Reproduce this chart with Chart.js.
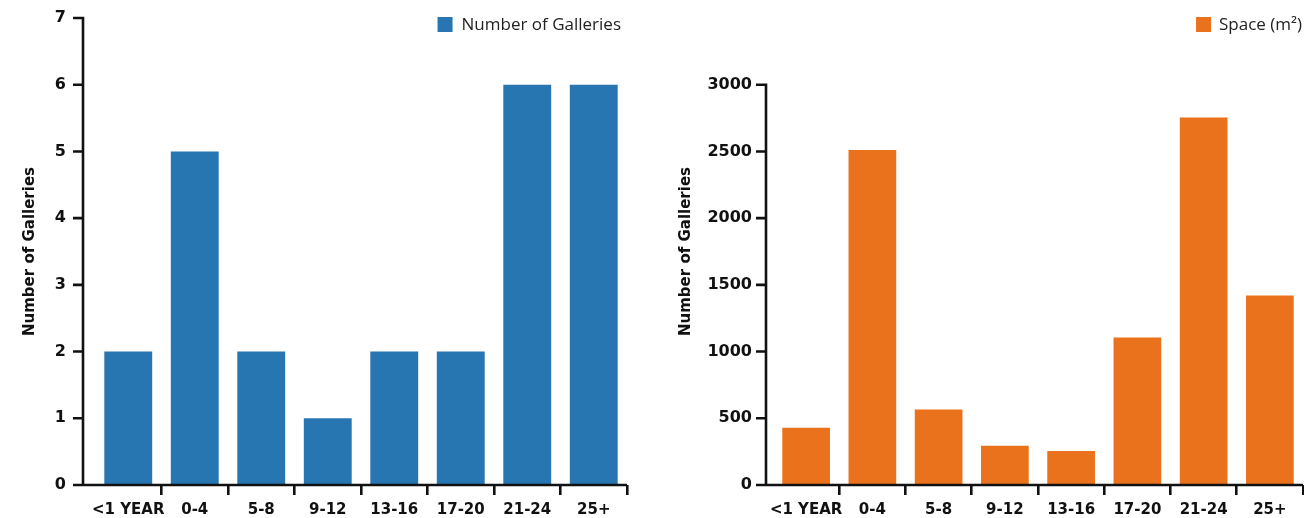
<!DOCTYPE html>
<html>
<head>
<meta charset="utf-8">
<script src="https://cdn.jsdelivr.net/npm/chart.js@4.4.0/dist/chart.umd.min.js"></script>
<style>
  body { margin: 0; background: #fff; }
  .wrap { position: absolute; top: 0; width: 652px; height: 518px; }
  #leftWrap { left: 0; }
  #rightWrap { left: 652px; }
</style>
</head>
<body>
<div class="wrap" id="leftWrap"><canvas id="galleries" width="652" height="518"></canvas></div>
<div class="wrap" id="rightWrap"><canvas id="space" width="652" height="518"></canvas></div>
<script>
const categories = ['<1 YEAR', '0-4', '5-8', '9-12', '13-16', '17-20', '21-24', '25+'];
const galleryCounts = [2, 5, 2, 1, 2, 2, 6, 6];
const spaceValues = [430, 2510, 565, 295, 255, 1105, 2755, 1420];
const galleryTicks = [0, 1, 2, 3, 4, 5, 6, 7];
const spaceTicks = [0, 500, 1000, 1500, 2000, 2500, 3000];

const TICK_FONT = "'DejaVu Sans', sans-serif";
const LEGEND_FONT = "'Open Sans', sans-serif";
const INK = '#111';

// y axis line sits a few px left of the first category, so axes and legend are drawn here
const axisLines = {
  id: 'axisLines',
  afterDraw(chart, args, opts) {
    const { ctx, chartArea, scales } = chart;
    const y = scales.y;
    const ax = chartArea.left - opts.gap;
    const top = y.getPixelForValue(opts.ticks[opts.ticks.length - 1]);
    const bottom = y.getPixelForValue(0);
    ctx.save();
    ctx.strokeStyle = INK;
    ctx.lineWidth = 2.6;
    ctx.beginPath();
    ctx.moveTo(ax, top - 1.3);
    ctx.lineTo(ax, bottom);
    ctx.moveTo(ax - 1.3, bottom);
    ctx.lineTo(chartArea.right, bottom);
    opts.ticks.forEach(v => {
      const py = y.getPixelForValue(v);
      ctx.moveTo(ax - 10, py);
      ctx.lineTo(ax, py);
    });
    ctx.stroke();

    // legend, top right
    const ds = chart.data.datasets[0];
    ctx.font = `17px ${LEGEND_FONT}`;
    ctx.textBaseline = 'middle';
    ctx.textAlign = 'left';
    const w = ctx.measureText(ds.label).width;
    const tx = chartArea.right - opts.legendRight - w;
    ctx.fillStyle = ds.backgroundColor;
    ctx.fillRect(tx - opts.legendGap - 15, 17, 15, 15);
    ctx.fillStyle = '#222';
    ctx.fillText(ds.label, tx, 25.5);
    ctx.restore();
  }
};

function makeChart(id, cfg) {
  return new Chart(document.getElementById(id), {
    type: 'bar',
    data: {
      labels: categories,
      datasets: [{
        label: cfg.label,
        data: cfg.values,
        backgroundColor: cfg.color,
        borderWidth: 0,
        barPercentage: 0.72,
        categoryPercentage: 1
      }]
    },
    plugins: [axisLines],
    options: {
      responsive: false,
      animation: false,
      devicePixelRatio: 1,
      layout: { autoPadding: false, padding: { left: 0, right: cfg.padRight, top: 18, bottom: 0 } },
      plugins: {
        tooltip: { enabled: false },
        legend: { display: false },
        axisLines: { gap: cfg.gap, ticks: cfg.ticks, legendRight: cfg.legendRight, legendGap: cfg.legendGap }
      },
      scales: {
        x: {
          offset: true,
          border: { display: false },
          grid: {
            offset: true,
            drawOnChartArea: false,
            tickLength: 10,
            lineWidth: 2.6,
            color: c => c.index === 0 ? 'rgba(0,0,0,0)' : INK
          },
          ticks: {
            color: INK,
            padding: 6,
            maxRotation: 0,
            autoSkip: false,
            font: { family: TICK_FONT, size: 15, weight: 'bold' }
          },
          afterFit: s => {
            s.height = 33;
            s.paddingLeft = 0;
            s.paddingRight = 0;
          }
        },
        y: {
          min: 0,
          max: cfg.max,
          border: { display: false },
          grid: { display: false, drawTicks: false },
          ticks: {
            stepSize: cfg.step,
            color: INK,
            padding: cfg.labelPad,
            font: { family: TICK_FONT, size: 16, weight: 'bold' },
            callback: v => cfg.ticks.includes(v) ? v : ''
          },
          title: {
            display: true,
            text: 'Number of Galleries',
            color: INK,
            padding: { top: cfg.titlePad, bottom: 0 },
            font: { family: TICK_FONT, size: 15, weight: 'bold' }
          },
          afterFit: s => {
            s.width = cfg.axisWidth;
            s.paddingTop = 0;
            s.paddingBottom = 0;
          }
        }
      }
    }
  });
}

makeChart('galleries', {
  label: 'Number of Galleries',
  values: galleryCounts,
  color: '#2775b1',
  ticks: galleryTicks,
  max: 7,
  step: 1,
  axisWidth: 95,
  padRight: 25,
  gap: 12,
  labelPad: 29,
  titlePad: 21,
  legendRight: 6,
  legendGap: 9
});

makeChart('space', {
  label: 'Space (m²)',
  values: spaceValues,
  color: '#eb721c',
  ticks: spaceTicks,
  max: 3500,
  step: 500,
  axisWidth: 121,
  padRight: 1,
  gap: 7,
  labelPad: 21,
  titlePad: 25,
  legendRight: 1,
  legendGap: 8
});
</script>
</body>
</html>
